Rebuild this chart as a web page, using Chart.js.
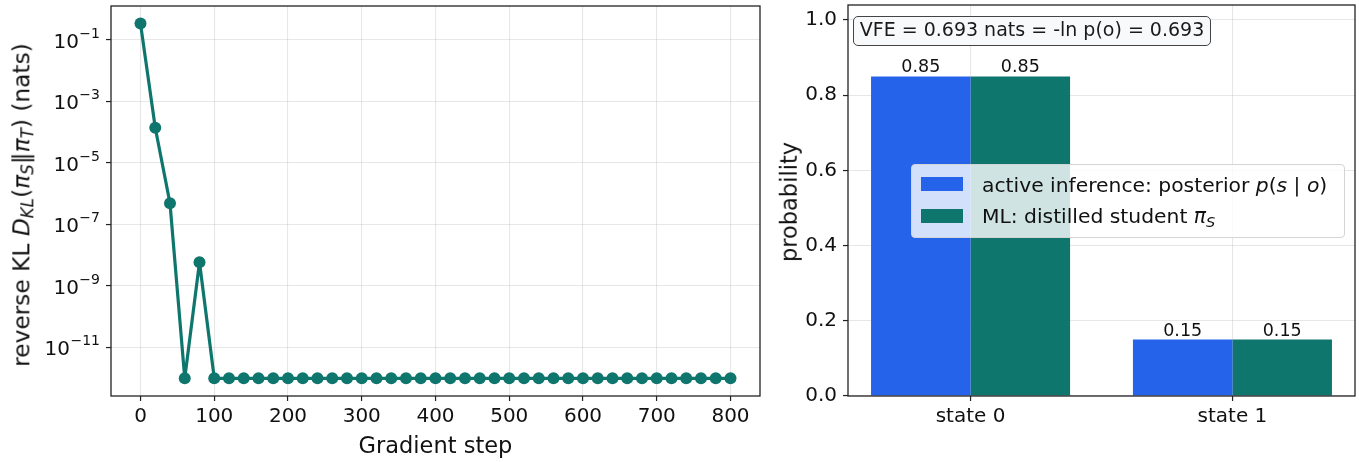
<!DOCTYPE html>
<html lang="en">
<head>
<meta charset="utf-8">
<title>reverse KL / VFE</title>
<script src="https://cdn.jsdelivr.net/npm/chart.js@4.4.1/dist/chart.umd.min.js"></script>
<style>
  html, body { margin: 0; padding: 0; background: #ffffff; }
  body { position: relative; width: 1359px; height: 462px; overflow: hidden;
         font-family: "DejaVu Sans", sans-serif; color: #111; }
  canvas { position: absolute; top: 0; }
  #lienzo-kl { left: 0; }
  #lienzo-barras { left: 770px; }
  .titulo-eje { position: absolute; font-size: 22.5px; line-height: 1; white-space: nowrap; }
  .vertical { transform: translate(-50%, -50%) rotate(-90deg); }
  sub { font-size: 72%; vertical-align: -0.25em; line-height: 0; }
  #anotacion { position: absolute; left: 853px; top: 16px; width: 358px; height: 30px; box-sizing: border-box;
     border: 1.4px solid #444; border-radius: 5px; background: rgba(248, 249, 251, 0.95);
     font-size: 19px; line-height: 1; text-align: center; padding-top: 2.6px; white-space: nowrap; color: #1a1a1a; }
  #leyenda { position: absolute; left: 911px; top: 164px; width: 434px; height: 74px; box-sizing: border-box;
     border: 1px solid #d4d4d4; border-radius: 4px; background: rgba(255, 255, 255, 0.8); font-size: 20.3px; }
  .muestra { position: absolute; left: 9px; width: 42px; height: 14px; }
  .texto-leyenda { position: absolute; left: 70px; line-height: 1; white-space: nowrap; }
</style>
</head>
<body>
<canvas id="lienzo-kl" width="770" height="462"></canvas>
<canvas id="lienzo-barras" width="589" height="462"></canvas>
<div id="titulo-y-kl" class="titulo-eje vertical" style="left:20.7px; top:205px; font-size:23.3px;"></div>
<div id="titulo-x-kl" class="titulo-eje" style="left:435.5px; top:434px; transform: translateX(-50%);"></div>
<div id="titulo-y-barras" class="titulo-eje vertical" style="left:789px; top:202px;"></div>
<div id="leyenda"></div>
<div id="anotacion"></div>

<script>
/* ******* Datos ******** */
const pasos = [0, 20, 40, 60, 80, 100, 120, 140, 160, 180, 200, 220, 240, 260, 280, 300, 320, 340, 360, 380,
               400, 420, 440, 460, 480, 500, 520, 540, 560, 580, 600, 620, 640, 660, 680, 700, 720, 740, 760, 780, 800];
const klInversa = [0.34, 1.4e-4, 4.9e-7, 1e-12, 5.9e-9,
                   1e-12, 1e-12, 1e-12, 1e-12, 1e-12, 1e-12, 1e-12, 1e-12, 1e-12,
                   1e-12, 1e-12, 1e-12, 1e-12, 1e-12, 1e-12, 1e-12, 1e-12, 1e-12,
                   1e-12, 1e-12, 1e-12, 1e-12, 1e-12, 1e-12, 1e-12, 1e-12, 1e-12,
                   1e-12, 1e-12, 1e-12, 1e-12, 1e-12, 1e-12, 1e-12, 1e-12, 1e-12];
const ticksPasos = [0, 100, 200, 300, 400, 500, 600, 700, 800];
const ticksKL = [1e-1, 1e-3, 1e-5, 1e-7, 1e-9, 1e-11];
// etiquetas 10^exp: base y exponente por separado (el exponente va en superindice)
const baseKL = "10";
const exponentesKL = ["\u22121", "\u22123", "\u22125", "\u22127", "\u22129", "\u221211"];

const estados = ["state 0", "state 1"];
const posterior = [0.85, 0.15];
const alumno = [0.85, 0.15];
const ticksProb = [0.0, 0.2, 0.4, 0.6, 0.8, 1.0];
const nombresSeries = ["active inference: posterior <i>p</i>(<i>s</i> | <i>o</i>)",
                       "ML: distilled student <i>π</i><sub><i>S</i></sub>"];
const textoVFE = "VFE = 0.693 nats = -ln p(o) = 0.693";

const tituloKL = "reverse KL <i>D</i><sub><i>KL</i></sub>(<i>π</i><sub><i>S</i></sub>‖<i>π</i><sub><i>T</i></sub>) (nats)";
const tituloPasos = "Gradient step";
const tituloProb = "probability";

/* ** Estilos comunes ** */
const azul = "#2563eb";
const verde = "#0f766e";
const colorTexto = "#111111";
const colorRejilla = "rgba(176, 176, 176, 0.3)";
const fuenteTicks = { family: "'DejaVu Sans', sans-serif", size: 20 };

Chart.defaults.font.family = "'DejaVu Sans', sans-serif";
Chart.defaults.color = colorTexto;

// rejilla clara y marcas de tick oscuras hacia fuera
function rejilla() {
	return { color: colorRejilla, lineWidth: 1.1, tickLength: 5, tickColor: "#222", tickWidth: 1.2 };
}

// marco completo alrededor del area de dibujo (como los spines)
const marco = {
	id: "marco",
	afterDraw(chart) {
		const { ctx, chartArea: a } = chart;
		ctx.save();
		ctx.strokeStyle = "#222";
		ctx.lineWidth = 1.3;
		ctx.strokeRect(a.left, a.top, a.right - a.left, a.bottom - a.top);
		ctx.restore();
	}
};

// etiquetas del eje log con el exponente en superindice
const etiquetasLog = {
	id: "etiquetasLog",
	afterDraw(chart) {
		const ctx = chart.ctx;
		const eje = chart.scales.y;
		const xDer = chart.chartArea.left - 5 - 6;
		ctx.save();
		ctx.fillStyle = colorTexto;
		ctx.textBaseline = "alphabetic";
		ctx.textAlign = "left";
		ticksKL.forEach((valor, i) => {
			const y = eje.getPixelForValue(valor);
			ctx.font = "14px 'DejaVu Sans'";
			const anchoExp = ctx.measureText(exponentesKL[i]).width;
			ctx.font = "20px 'DejaVu Sans'";
			const anchoBase = ctx.measureText(baseKL).width;
			const x0 = xDer - anchoExp - anchoBase - 0.5;
			ctx.fillText(baseKL, x0, y + 7.6);
			ctx.font = "14px 'DejaVu Sans'";
			ctx.fillText(exponentesKL[i], x0 + anchoBase + 0.5, y - 2.4);
		});
		ctx.restore();
	}
};

// valores encima de cada barra
const etiquetasBarras = {
	id: "etiquetasBarras",
	afterDraw(chart) {
		const ctx = chart.ctx;
		ctx.save();
		ctx.font = "17.5px 'DejaVu Sans'";
		ctx.fillStyle = colorTexto;
		ctx.textAlign = "center";
		ctx.textBaseline = "alphabetic";
		chart.data.datasets.forEach((ds, i) => {
			chart.getDatasetMeta(i).data.forEach((barra, j) => {
				ctx.fillText(ds.data[j].y.toFixed(2), barra.x, barra.y - 4);
			});
		});
		ctx.restore();
	}
};

/* **** Grafica izquierda: KL inversa (log) *********** */
const graficoKL = new Chart(document.getElementById("lienzo-kl"), {
	type: "line",
	data: {
		datasets: [{
			label: "reverse KL",
			data: pasos.map((p, i) => ({ x: p, y: klInversa[i] })),
			borderColor: verde,
			backgroundColor: verde,
			borderWidth: 3.2,
			borderJoinStyle: "round",
			borderCapStyle: "round",
			pointRadius: 6,
			pointBorderWidth: 0,
			pointHoverRadius: 6,
			tension: 0
		}]
	},
	options: {
		responsive: false,
		animation: false,
		devicePixelRatio: 1,
		events: [],
		layout: { padding: { top: 5, right: 10, left: 0, bottom: 0 } },
		plugins: { legend: { display: false }, tooltip: { enabled: false } },
		scales: {
			x: {
				type: "linear",
				min: -40,
				max: 840,
				afterBuildTicks: (eje) => { eje.ticks = ticksPasos.map(v => ({ value: v })); },
				afterFit: (eje) => { eje.height = 66; eje.paddingLeft = 0; eje.paddingRight = 0; },
				ticks: { font: fuenteTicks, color: colorTexto, padding: 4, autoSkip: false, maxRotation: 0,
				         callback: (v) => String(v) },
				grid: rejilla(),
				border: { display: false }
			},
			y: {
				type: "logarithmic",
				min: Math.pow(10, -12.576),
				max: Math.pow(10, 0.104),
				afterBuildTicks: (eje) => { eje.ticks = ticksKL.map(v => ({ value: v })); },
				afterFit: (eje) => { eje.width = 111; eje.paddingTop = 0; eje.paddingBottom = 0; },
				// las etiquetas las pinta el plugin etiquetasLog
				ticks: { font: fuenteTicks, color: colorTexto, padding: 6, autoSkip: false,
				         callback: () => "" },
				grid: rejilla(),
				border: { display: false }
			}
		}
	},
	plugins: [marco, etiquetasLog]
});

/* **** Grafica derecha: barras agrupadas *********** */
const graficoBarras = new Chart(document.getElementById("lienzo-barras"), {
	type: "bar",
	data: {
		datasets: [
			{
				label: nombresSeries[0].replace(/<[^>]+>/g, ""),
				data: posterior.map((v, i) => ({ x: i, y: v })),
				backgroundColor: azul,
				borderWidth: 0,
				categoryPercentage: 0.76,
				barPercentage: 1
			},
			{
				label: nombresSeries[1].replace(/<[^>]+>/g, ""),
				data: alumno.map((v, i) => ({ x: i, y: v })),
				backgroundColor: verde,
				borderWidth: 0,
				categoryPercentage: 0.76,
				barPercentage: 1
			}
		]
	},
	options: {
		responsive: false,
		animation: false,
		devicePixelRatio: 1,
		events: [],
		layout: { padding: { top: 5, right: 4, left: 0, bottom: 0 } },
		plugins: { legend: { display: false }, tooltip: { enabled: false } },
		scales: {
			x: {
				type: "linear",
				min: -0.468,
				max: 1.468,
				offset: false,
				z: 1,
				afterBuildTicks: (eje) => { eje.ticks = estados.map((e, i) => ({ value: i })); },
				afterFit: (eje) => { eje.height = 66; eje.paddingLeft = 0; eje.paddingRight = 0; },
				ticks: { font: fuenteTicks, color: colorTexto, padding: 4, autoSkip: false, maxRotation: 0,
				         callback: (v) => estados[v] },
				grid: Object.assign(rejilla(), { offset: false }),
				border: { display: false }
			},
			y: {
				min: 0,
				max: 1.04,
				z: 1,
				afterBuildTicks: (eje) => { eje.ticks = ticksProb.map(v => ({ value: v })); },
				afterFit: (eje) => { eje.width = 78; eje.paddingTop = 0; eje.paddingBottom = 0; },
				ticks: { font: fuenteTicks, color: colorTexto, padding: 6, autoSkip: false,
				         callback: (v) => v.toFixed(1) },
				grid: rejilla(),
				border: { display: false }
			}
		}
	},
	plugins: [marco, etiquetasBarras]
});

/* ** Textos en HTML (titulos, leyenda, anotacion) ** */
document.getElementById("titulo-y-kl").innerHTML = tituloKL;
document.getElementById("titulo-x-kl").textContent = tituloPasos;
document.getElementById("titulo-y-barras").textContent = tituloProb;
document.getElementById("anotacion").textContent = textoVFE;

const leyenda = document.getElementById("leyenda");
const coloresSeries = [azul, verde];
const filasTop = [9.8, 40.8];
const muestrasTop = [12, 44];
nombresSeries.forEach((nombre, i) => {
	const muestra = document.createElement("span");
	muestra.className = "muestra";
	muestra.style.top = muestrasTop[i] + "px";
	muestra.style.background = coloresSeries[i];
	leyenda.appendChild(muestra);
	const texto = document.createElement("span");
	texto.className = "texto-leyenda";
	texto.style.top = filasTop[i] + "px";
	texto.innerHTML = nombre;
	leyenda.appendChild(texto);
});
</script>
</body>
</html>
